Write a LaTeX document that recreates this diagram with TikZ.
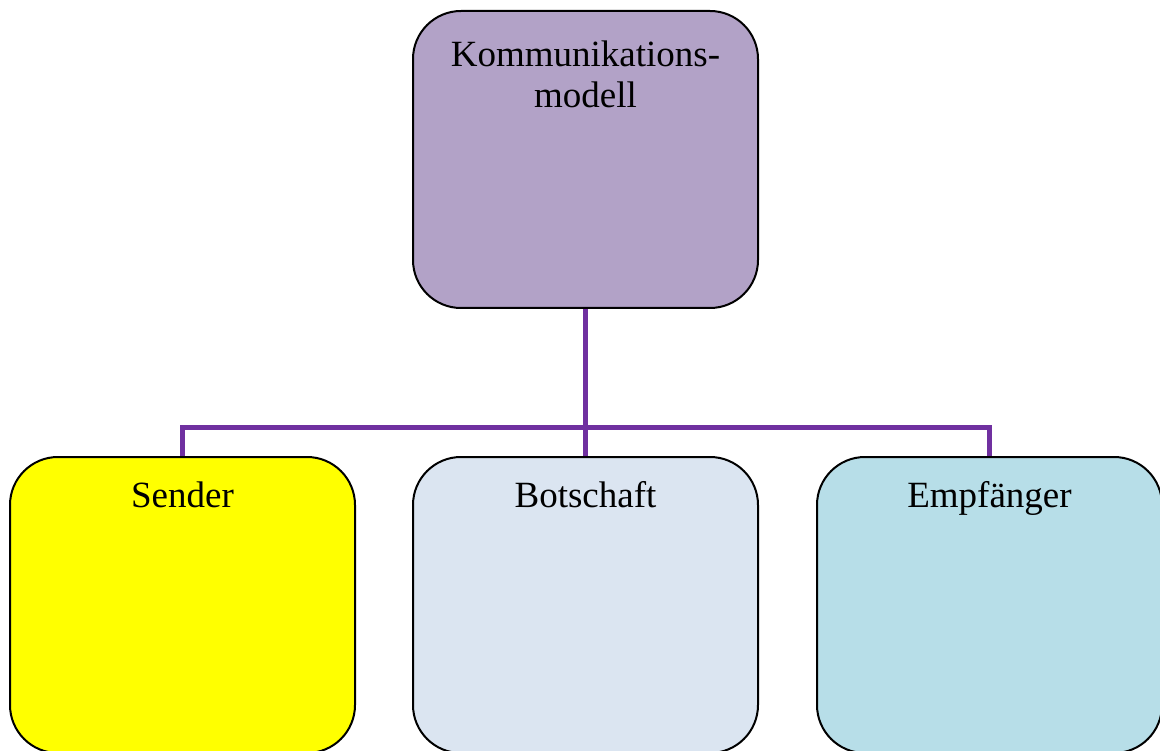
\documentclass[tikz,border=0pt]{standalone}
\usepackage{fontspec}
\setmainfont{Liberation Serif}
\usetikzlibrary{backgrounds}
\definecolor{lavender}{HTML}{B2A2C7}
\definecolor{brightyellow}{HTML}{FFFF00}
\definecolor{lightsteel}{HTML}{DBE5F1}
\definecolor{paleaqua}{HTML}{B7DEE8}
\definecolor{linkpurple}{HTML}{7030A0}
\tikzset{
  box/.style={draw=black, line width=2pt, rounded corners=48pt,
    minimum width=345pt, inner sep=0pt},
  lbl/.style={anchor=base, inner sep=0pt, align=center,
    font=\fontsize{37}{41}\selectfont},
  conn/.style={draw=linkpurple, line width=5pt}
}
\begin{document}
\begin{tikzpicture}[x=1pt,y=-1pt]
  \useasboundingbox (0,0) rectangle (1160,751);
  % boxes
  \node[box, fill=lavender, minimum height=297pt] (top) at (585.5,159.5) {};
  \node[box, fill=brightyellow, minimum height=296pt] (sender) at (182.5,605) {};
  \node[box, fill=lightsteel, minimum height=296pt] (botschaft) at (585.5,605) {};
  \node[box, fill=paleaqua, minimum height=296pt] (empf) at (989.5,605) {};
  % labels (a two-line label sits on the baseline of its last line)
  \node[lbl] (ttop) at (585.5,108) {Kommunikations-\\modell};
  \node[lbl] (tsender) at (182.5,507) {Sender};
  \node[lbl] (tbot) at (585.5,507) {Botschaft};
  \node[lbl] (tempf) at (989.5,507) {Empfänger};
  % connectors
  \coordinate (bus) at (585.5,427);
  \begin{pgfonlayer}{background}
    \draw[conn] (top.south) -- (botschaft.north);
    \draw[conn] (sender.north) -- (sender.north |- bus) -- (empf.north |- bus) -- (empf.north);
  \end{pgfonlayer}
\end{tikzpicture}
\end{document}
